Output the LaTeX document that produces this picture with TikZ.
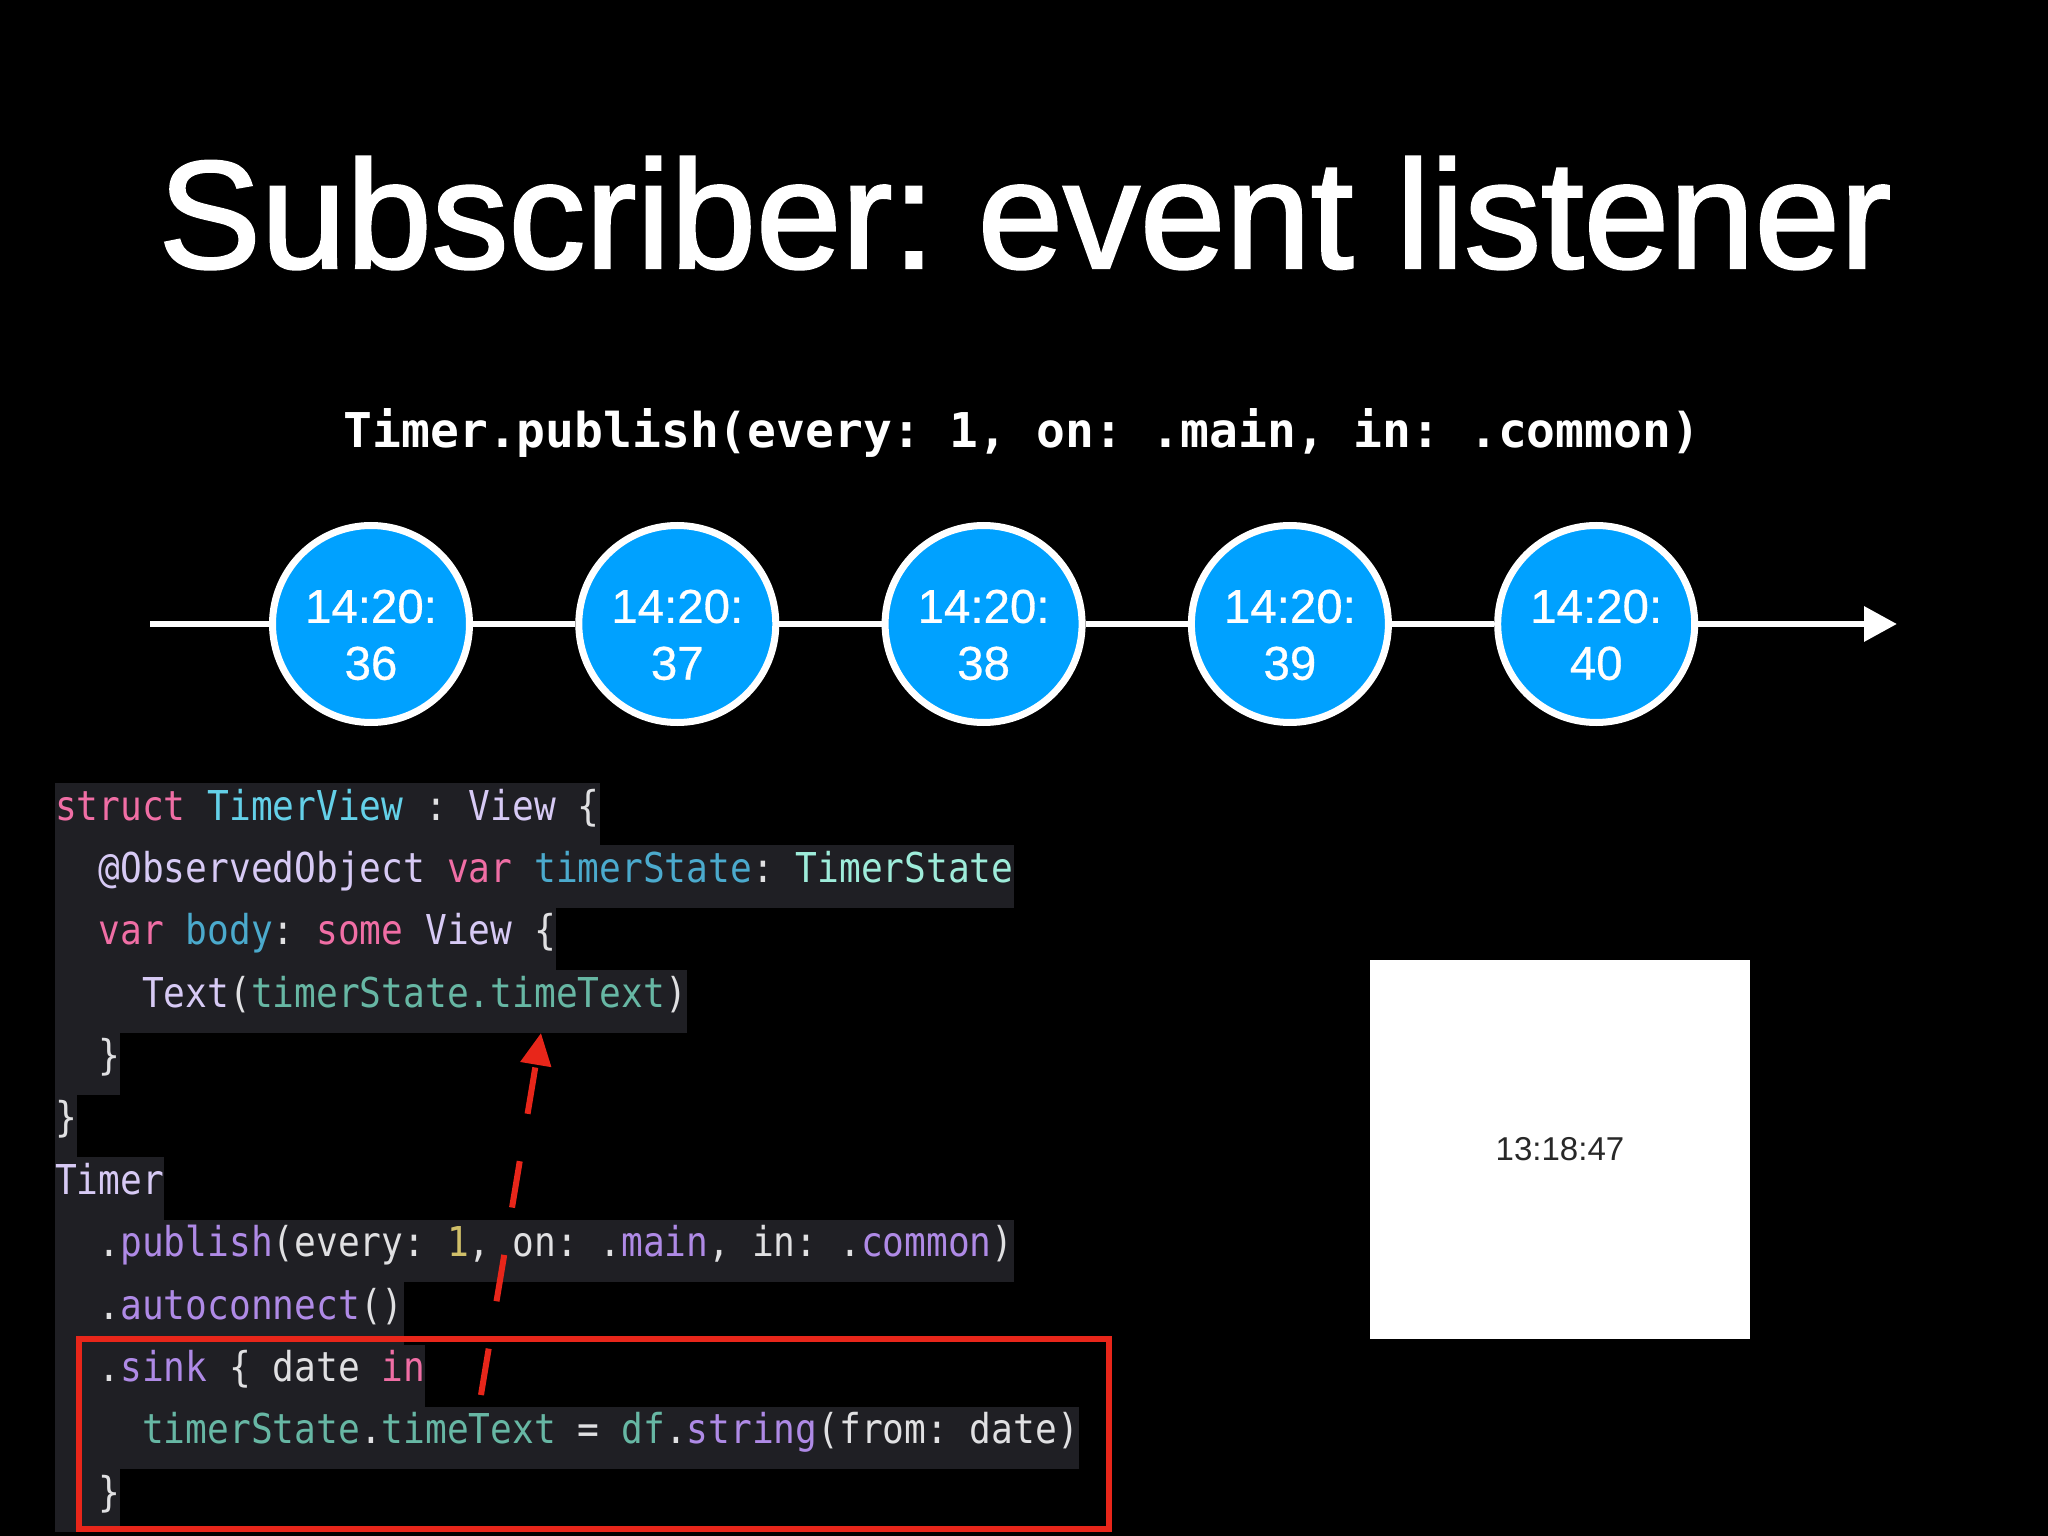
\documentclass[tikz,border=0pt]{standalone}
\usepackage{fontspec}
\setmainfont{Liberation Sans}
\newfontfamily\titlefont[FakeBold=1.6]{Liberation Sans}
\newfontfamily\tickfont[FakeBold=0.6]{Liberation Sans}
\newfontfamily\codefont[FakeStretch=0.88]{DejaVu Sans Mono}
\newfontfamily\labelfont{DejaVu Sans Mono}
\usetikzlibrary{arrows.meta, positioning}

\definecolor{tickblue}{RGB}{0,161,255}
\definecolor{codebg}{RGB}{31,31,36}
\definecolor{codeplain}{RGB}{224,224,226}
\definecolor{codekw}{RGB}{240,110,165}
\definecolor{codedecl}{RGB}{100,208,232}
\definecolor{codevar}{RGB}{75,170,205}
\definecolor{codesys}{RGB}{215,202,245}
\definecolor{codeproj}{RGB}{158,236,218}
\definecolor{codeprop}{RGB}{103,183,164}
\definecolor{codemeth}{RGB}{175,138,230}
\definecolor{codenum}{RGB}{208,191,105}
\definecolor{markred}{RGB}{232,38,26}

\newcommand{\cdkw}[1]{\textcolor{codekw}{#1}}
\newcommand{\cddecl}[1]{\textcolor{codedecl}{#1}}
\newcommand{\cdvar}[1]{\textcolor{codevar}{#1}}
\newcommand{\cdsys}[1]{\textcolor{codesys}{#1}}
\newcommand{\cdproj}[1]{\textcolor{codeproj}{#1}}
\newcommand{\cdprop}[1]{\textcolor{codeprop}{#1}}
\newcommand{\cdmeth}[1]{\textcolor{codemeth}{#1}}
\newcommand{\cdnum}[1]{\textcolor{codenum}{#1}}
\newcommand{\tickstrut}{\rule{0pt}{0.55cm}}

\tikzset{
    tick/.style={circle, draw=white, line width=0.07cm, fill=tickblue, minimum size=1.97cm, inner sep=0pt, text=white, align=center, font=\fontsize{13.5}{16.2}\tickfont, on grid},
    timeline/.style={white, line width=0.065cm, -{Triangle[length=0.33cm, width=0.34cm]}},
    codeline/.style={anchor=base west, fill=codebg, inner sep=0pt, outer sep=0pt, text height=0.37cm, text depth=0.254cm, text=codeplain, font=\fontsize{11.7}{14}\codefont},
    redbox/.style={rectangle, draw=markred, line width=0.06cm, inner sep=0pt},
    redarrow/.style={markred, line width=0.06cm, dash pattern=on 0.47cm off 0.48cm, -{Triangle[length=0.32cm, width=0.30cm]}},
    screen/.style={rectangle, fill=white, inner sep=0pt, minimum width=3.80cm, minimum height=3.79cm, text={rgb,255:red,40;green,40;blue,40}, font=\fontsize{9.4}{11}\selectfont}
}

\begin{document}
\frenchspacing
\begin{tikzpicture}[x=1cm, y=-1cm]
    % Slide background
    \fill[black] (0,0) rectangle (20.48,15.36);
    \useasboundingbox (0,0) rectangle (20.48,15.36);

    % Title and call
    \node (title) [anchor=base, text=white, font=\fontsize{43.7}{52}\titlefont] at (10.25,2.68) {Subscriber: event listener};
    \node (call) [anchor=base, text=white, font=\fontsize{13.64}{16}\labelfont\bfseries] at (10.22,4.48) {Timer.publish(every: 1, on: .main, in: .common)};

    % Timer events
    \node (c1) [tick] at (3.71,6.24) {\tickstrut14:20:\\36};
    \node (c2) [tick, right=3.063cm of c1] {\tickstrut14:20:\\37};
    \node (c3) [tick, right=3.063cm of c2] {\tickstrut14:20:\\38};
    \node (c4) [tick, right=3.063cm of c3] {\tickstrut14:20:\\39};
    \node (c5) [tick, right=3.063cm of c4] {\tickstrut14:20:\\40};
    \coordinate (tstart) at (1.50,6.24);
    \coordinate (tend) at (18.97,6.24);
    \draw [timeline] (tstart) -- (c1) -- (c2) -- (c3) -- (c4) -- (c5) -- (tend);

    % Code
    \node (l0) [codeline] at (0.55,8.20) {\cdkw{struct} \cddecl{TimerView} : \cdsys{View} \{};
    \node (l1) [codeline, below=0pt of l0.south west, anchor=north west] {\phantom{xx}\cdsys{@ObservedObject} \cdkw{var} \cdvar{timerState}: \cdproj{TimerState}};
    \node (l2) [codeline, below=0pt of l1.south west, anchor=north west] {\phantom{xx}\cdkw{var} \cdvar{body}: \cdkw{some} \cdsys{View} \{};
    \node (l3) [codeline, below=0pt of l2.south west, anchor=north west] {\phantom{xxxx}\cdsys{Text}(\cdprop{timerState.timeText})};
    \node (l4) [codeline, below=0pt of l3.south west, anchor=north west] {\phantom{xx}\}};
    \node (l5) [codeline, below=0pt of l4.south west, anchor=north west] {\}};
    \node (l6) [codeline, below=0pt of l5.south west, anchor=north west] {\cdsys{Timer}};
    \node (l7) [codeline, below=0pt of l6.south west, anchor=north west] {\phantom{xx}.\cdmeth{publish}(every: \cdnum{1}, on: .\cdmeth{main}, in: .\cdmeth{common})};
    \node (l8) [codeline, below=0pt of l7.south west, anchor=north west] {\phantom{xx}.\cdmeth{autoconnect}()};
    \node (l9) [codeline, below=0pt of l8.south west, anchor=north west] {\phantom{xx}.\cdmeth{sink} \{ date \cdkw{in}};
    \node (l10) [codeline, below=0pt of l9.south west, anchor=north west] {\phantom{xxxx}\cdprop{timerState}.\cdprop{timeText} = \cdprop{df}.\cdmeth{string}(from: date)};
    \node (l11) [codeline, below=0pt of l10.south west, anchor=north west] {\phantom{xx}\}};

    % Highlight of the sink and its effect
    \node (sinkbox) [redbox, anchor=north west, minimum width=10.30cm, minimum height=1.90cm] at (0.76,13.36) {};
    \coordinate (sinkpoint) at (4.81,13.95);
    \coordinate (textpoint) at (5.41,10.33);
    \draw [redarrow] (sinkpoint) -- (textpoint);

    % Rendered view
    \node (view) [screen] at (15.60,11.495) {13:18:47};
\end{tikzpicture}
\end{document}
